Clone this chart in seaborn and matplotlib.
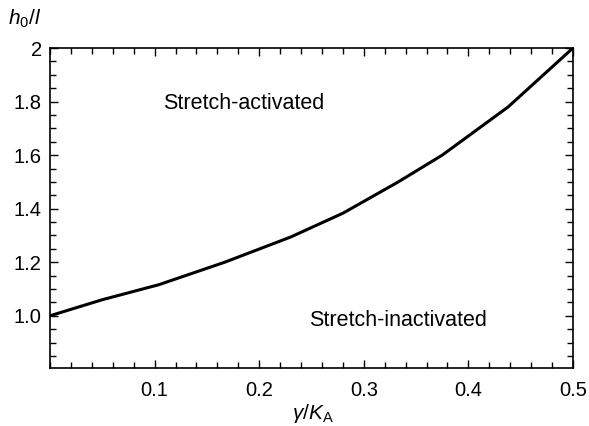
import matplotlib
matplotlib.use("Agg")
import matplotlib.pyplot as plt
from matplotlib.ticker import MultipleLocator, FixedLocator, FixedFormatter
import seaborn as sns
import pandas as pd

gamma_ka = [0.0, 0.05, 0.104, 0.167, 0.230, 0.280, 0.333, 0.375, 0.438, 0.5]
h0_l = [1.0, 1.06, 1.116, 1.20, 1.294, 1.383, 1.50, 1.60, 1.78, 2.0]
xtick_vals = [0.1, 0.2, 0.3, 0.4, 0.5]
xtick_labels = ["0.1", "0.2", "0.3", "0.4", "0.5"]
ytick_vals = [1.0, 1.2, 1.4, 1.6, 1.8, 2.0]
ytick_labels = ["1.0", "1.2", "1.4", "1.6", "1.8", "2"]

sns.set_theme(style="ticks")
plt.rcParams['font.family'] = ['Liberation Sans', 'DejaVu Sans']
plt.rcParams['text.color'] = 'black'
plt.rcParams['mathtext.fontset'] = 'custom'
plt.rcParams['mathtext.it'] = 'Liberation Sans:italic'
plt.rcParams['mathtext.rm'] = 'Liberation Sans'

df = pd.DataFrame({"x": gamma_ka, "y": h0_l})

fig = plt.figure(figsize=(5.89, 4.26), dpi=100)
ax = fig.add_axes([50/589, 1 - 368/426, 523/589, 320/426])
sns.lineplot(data=df, x="x", y="y", ax=ax, color="black", linewidth=2.2)

ax.set_xlim(0, 0.5)
ax.set_ylim(0.805, 2.0)
ax.xaxis.set_major_locator(FixedLocator(xtick_vals))
ax.xaxis.set_major_formatter(FixedFormatter(xtick_labels))
ax.yaxis.set_major_locator(FixedLocator(ytick_vals))
ax.yaxis.set_major_formatter(FixedFormatter(ytick_labels))
ax.xaxis.set_minor_locator(MultipleLocator(0.02))
ax.yaxis.set_minor_locator(MultipleLocator(0.05))
ax.tick_params(which="both", direction="in", top=True, right=True,
               colors="black", labelsize=14.5, width=1.0)
ax.tick_params(which="major", length=6)
ax.tick_params(which="minor", length=4)
ax.tick_params(axis="x", which="major", pad=9)
ax.tick_params(axis="y", which="major", pad=6)
ax.tick_params(labeltop=False, labelright=False)
for s in ax.spines.values():
    s.set_linewidth(1.2)
    s.set_color("black")

ax.set_xlabel("")
ax.set_ylabel("")
fig.text(313/589, 1 - 419/426, r"$\gamma/K_{\mathrm{A}}$", fontsize=15,
         ha="center", va="baseline", color="black")
fig.text(8/589, 1 - 25/426, r"$h_0/l$", fontsize=15, ha="left", va="baseline",
         color="black")

ax.text(0.108, 1.772, "Stretch-activated", fontsize=15.5, ha="left",
        va="baseline", color="black")
ax.text(0.2476, 0.963, "Stretch-inactivated", fontsize=15.5, ha="left",
        va="baseline", color="black")

fig.savefig("out.png", dpi=100)
